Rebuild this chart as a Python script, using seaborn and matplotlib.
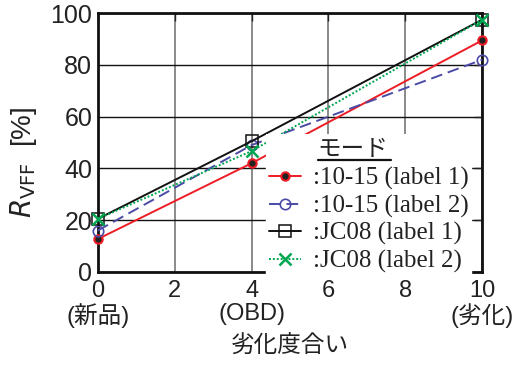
import matplotlib
matplotlib.use("Agg")
import matplotlib.pyplot as plt
from matplotlib.lines import Line2D
from matplotlib.patches import Rectangle
import seaborn as sns
import pandas as pd

# 劣化度合い vs R_VFF
degradation = [0, 4, 10]
r_1015_label1 = [12.7, 42.0, 89.5]
r_1015_label2 = [16.0, 49.0, 82.0]
r_jc08_label1 = [20.5, 50.5, 97.5]
r_jc08_label2 = [20.5, 46.7, 97.5]

series_names = [":10-15 (label 1)", ":10-15 (label 2)", ":JC08 (label 1)", ":JC08 (label 2)"]
legend_title = "モード"
x_ticks = [0, 2, 4, 6, 8, 10]
x_tick_labels = ["0\n(新品)", "2", "4\n(OBD)", "6", "8", "10\n(劣化)"]
y_ticks = [0, 20, 40, 60, 80, 100]

sns.set_style("white")
plt.rcParams["font.family"] = ["Liberation Sans", "Noto Sans CJK JP"]

fig = plt.figure(figsize=(5.23, 3.65), dpi=100)
ax = fig.add_axes([0.187, 0.255, 0.735, 0.709])

styles = [
    dict(color="#ee1c24", linestyle="-", marker="o", markersize=6,
         markerfacecolor="#222222", markeredgecolor="#ee1c24", markeredgewidth=1.5),
    dict(color="#4b4ba6", linestyle=(0, (6, 3)), marker="o", markersize=7.5,
         markerfacecolor="none", markeredgecolor="#4b4ba6", markeredgewidth=1.2),
    dict(color="#111111", linestyle="-", marker="s", markersize=8.5,
         markerfacecolor="none", markeredgecolor="#111111", markeredgewidth=1.1),
    dict(color="#00a651", linestyle=(0, (1, 1)), marker="x", markersize=8,
         markerfacecolor="none", markeredgecolor="#00a651", markeredgewidth=1.8),
]
values = [r_1015_label1, r_1015_label2, r_jc08_label1, r_jc08_label2]

for name, vals, st in zip(series_names, values, styles):
    df = pd.DataFrame({"x": degradation, "y": vals})
    sns.lineplot(data=df, x="x", y="y", ax=ax, label=name, linewidth=1.4,
                 clip_on=False, zorder=3, **st)

ax.set_xlim(0, 10)
ax.set_ylim(0, 100)
ax.set_xticks(x_ticks)
ax.set_xticklabels(x_tick_labels, fontsize=17, linespacing=1.05)
ax.set_yticks(y_ticks)
ax.set_yticklabels([str(v) for v in y_ticks], fontsize=18)
ax.tick_params(direction="in", length=6, width=1.0, top=True, right=True,
               pad=4, colors="#222222")
ax.tick_params(axis="x", pad=6)
ax.grid(True, axis="x", color="#777777", linewidth=1.2)
ax.grid(True, axis="y", color="#111111", linewidth=1.0)
for s in ax.spines.values():
    s.set_linewidth(2.0)
    s.set_color("#111111")

ax.set_xlabel("劣化度合い", fontsize=17, labelpad=5,
              family=["Noto Sans CJK JP", "Liberation Sans"], color="#222222")
ax.set_ylabel("$R_{\\mathrm{VFF}}$  [%]", fontsize=20, color="#222222")
ax.yaxis.set_label_coords(-0.152, 0.425)

# legend entries; the title is placed above the entries afterwards
leg = ax.legend(loc="lower right", bbox_to_anchor=(0.972, -0.016), frameon=True,
                fancybox=False, framealpha=1.0, edgecolor="white",
                prop={"family": "Liberation Serif", "size": 18},
                handlelength=1.3, handletextpad=0.45, labelspacing=0.18,
                borderpad=0.12, borderaxespad=0.0)
leg.set_zorder(5)
for t in leg.get_texts():
    t.set_color("#222222")

fig.canvas.draw()
inv = fig.transFigure.inverted()
lb = leg.get_window_extent()
tx0 = leg.get_texts()[0].get_window_extent().x0
fx, fy = inv.transform((tx0 + 5, lb.y1 + 3))
fx_left, fy_box = inv.transform((lb.x0, lb.y1 - 1))
fx_right, fy_top = inv.transform((lb.x1, lb.y1 + 30))
# white patch behind the title so the grid stops there as well
fig.add_artist(Rectangle((fx_left, fy_box), fx_right - fx_left, fy_top - fy_box,
                         transform=fig.transFigure, facecolor="white",
                         edgecolor="none", zorder=6))
title = fig.text(fx, fy, legend_title, fontsize=17, color="#222222",
                 family=["Noto Sans CJK JP"], ha="left", va="bottom", zorder=7)
fig.canvas.draw()
tb = title.get_window_extent()
(u0, uy), (u1, _) = inv.transform([(tb.x0, tb.y0 + 1), (tb.x1 + 2, tb.y0 + 1)])
fig.add_artist(Line2D([u0, u1], [uy, uy], color="#111111",
                      linewidth=1.6, transform=fig.transFigure, zorder=8))

fig.savefig("out.png", dpi=100)
